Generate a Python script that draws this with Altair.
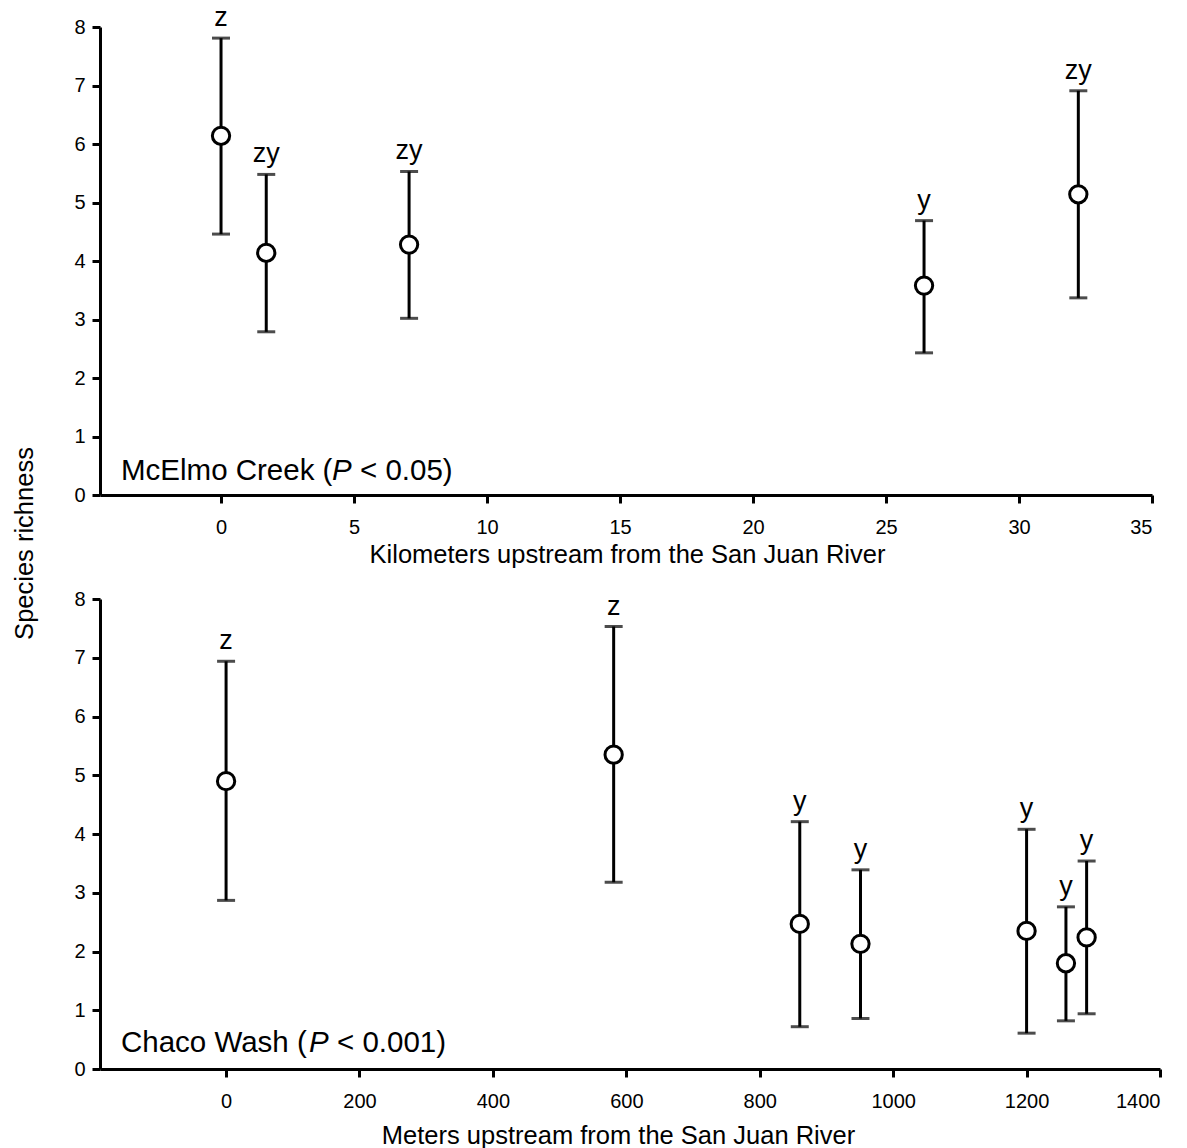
import altair as alt
import pandas as pd

FONT = "Liberation Sans"

# McElmo Creek: mean species richness per site with error-bar limits
mcelmo_km = [0.0, 1.70, 7.07, 26.43, 32.23]
mcelmo_mean = [6.14, 4.14, 4.28, 3.58, 5.14]
mcelmo_upper = [7.81, 5.48, 5.53, 4.69, 6.91]
mcelmo_lower = [4.46, 2.79, 3.02, 2.43, 3.37]
mcelmo_group = ["z", "zy", "zy", "y", "zy"]

# Chaco Wash
chaco_m = [0, 581, 860, 951, 1200, 1259, 1290]
chaco_mean = [4.90, 5.35, 2.47, 2.13, 2.35, 1.80, 2.24]
chaco_upper = [6.94, 7.53, 4.21, 3.39, 4.08, 2.76, 3.54]
chaco_lower = [2.87, 3.18, 0.72, 0.86, 0.61, 0.82, 0.94]
chaco_group = ["z", "z", "y", "y", "y", "y", "y"]

y_ticks = list(range(0, 9))
km_ticks = list(range(0, 36, 5))
m_ticks = list(range(0, 1401, 200))

mcelmo_label = ["McElmo Creek (", "P", "< 0.05)"]
chaco_label = ["Chaco Wash (", "P", "< 0.001)"]
y_title = "Species richness"

LABEL_SIZE = 20
TITLE_SIZE = 25.5
LINE_W = 3


def panel(dist, mean, upper, lower, group, x_domain, x_ticks, x_title,
          width, height, label, p_x, label_pad, title_x, title_y, with_y_title):
    df = pd.DataFrame({"dist": dist, "mean": mean, "upper": upper,
                       "lower": lower, "group": group})

    x_axis = alt.Axis(values=x_ticks, format="d", title=x_title,
                      labelPadding=label_pad, labelFont=FONT,
                      labelFontSize=LABEL_SIZE, titleFont=FONT,
                      titleFontSize=TITLE_SIZE, titleX=title_x, titleY=title_y,
                      titleAlign="center", titleBaseline="alphabetic")
    x = alt.X("dist:Q", scale=alt.Scale(domain=x_domain, nice=False, zero=False),
              axis=x_axis)

    if with_y_title:
        y_axis = alt.Axis(values=y_ticks, format="d", title=y_title,
                          labelPadding=7, labelFont=FONT,
                          labelFontSize=LABEL_SIZE, titleFont=FONT,
                          titleFontSize=TITLE_SIZE, titleX=-76, titleY=516,
                          titleAlign="center", titleBaseline="middle",
                          titleAngle=-90)
    else:
        y_axis = alt.Axis(values=y_ticks, format="d", title=None,
                          labelPadding=7, labelFont=FONT,
                          labelFontSize=LABEL_SIZE)

    def yenc(field):
        return alt.Y(f"{field}:Q", scale=alt.Scale(domain=[0, 8], nice=False),
                     axis=y_axis)

    base = alt.Chart(df)
    bars = base.mark_rule(color="black", strokeWidth=LINE_W).encode(
        x=x, y=yenc("lower"), y2="upper:Q")
    cap_hi = base.mark_tick(color="black", orient="horizontal", size=18,
                            thickness=LINE_W).encode(x=x, y=yenc("upper"))
    cap_lo = base.mark_tick(color="black", orient="horizontal", size=18,
                            thickness=LINE_W).encode(x=x, y=yenc("lower"))
    pts = base.mark_point(shape="circle", filled=True, fill="white",
                          stroke="black", strokeWidth=LINE_W, size=300,
                          opacity=1).encode(x=x, y=yenc("mean"))
    letters = base.mark_text(font=FONT, fontSize=27, baseline="bottom",
                             dy=-6, color="black").encode(
        x=x, y=yenc("upper"), text="group:N")

    # site name with italic P
    lab_df = pd.DataFrame({"part": label})
    parts = []
    xs = [21, p_x, p_x + 28]
    styles = ["normal", "italic", "normal"]
    for i in range(3):
        parts.append(
            alt.Chart(lab_df).transform_filter(
                alt.datum.part == label[i]
            ).mark_text(font=FONT, fontSize=29.5, fontStyle=styles[i],
                        align="left", baseline="alphabetic",
                        color="black").encode(
                text="part:N", x=alt.value(xs[i]), y=alt.value(453))
        )

    return alt.layer(bars, cap_hi, cap_lo, pts, letters, *parts).properties(
        width=width, height=height)


top = panel(mcelmo_km, mcelmo_mean, mcelmo_upper, mcelmo_lower, mcelmo_group,
            [-4.55, 35], km_ticks, "Kilometers upstream from the San Juan River",
            1052, 468, mcelmo_label, 232, 14, 527, 67, True)
bottom = panel(chaco_m, chaco_mean, chaco_upper, chaco_lower, chaco_group,
               [-189, 1400], m_ticks, "Meters upstream from the San Juan River",
               1060, 470, chaco_label, 209, 14, 518, 74, False)

chart = alt.vconcat(top, bottom, spacing=104, bounds="flush").properties(
    padding={"left": 12, "top": 4, "right": 5, "bottom": 2},
    background="white",
).configure_axis(
    grid=False,
    domainColor="black", domainWidth=LINE_W,
    tickColor="black", tickWidth=LINE_W, tickSize=8,
    labelColor="black", labelFont=FONT, labelFontSize=LABEL_SIZE,
    titleColor="black", titleFont=FONT, titleFontSize=TITLE_SIZE,
    titleFontWeight="normal",
).configure_view(strokeWidth=0)

chart.save("out.html", embed_options={"renderer": "svg", "actions": False})
